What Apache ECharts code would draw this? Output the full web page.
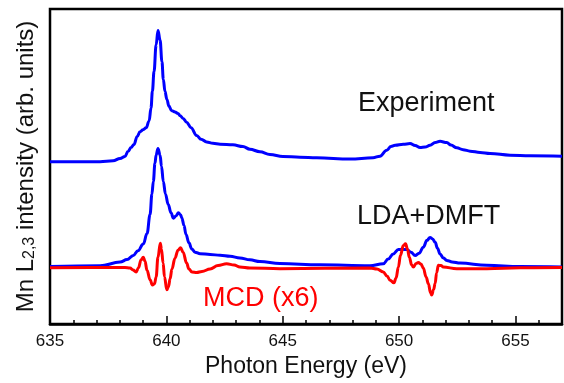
<!DOCTYPE html>
<html>
<head>
<meta charset="utf-8">
<script src="https://cdn.jsdelivr.net/npm/echarts@6/dist/echarts.min.js"></script>
<style>
  html, body { margin: 0; padding: 0; background: #fff; }
  #chart { width: 564px; height: 383px; }
</style>
</head>
<body>
<div id="chart"></div>
<script>
// photon energy (eV) and intensity (arb. units)
const expEnergy = [635.00, 637.15, 637.71, 638.01, 638.22, 638.35, 638.48, 638.61, 638.74, 638.87, 639.00, 639.13, 639.26, 639.34, 639.40, 639.47, 639.56, 639.64, 639.73, 639.81, 639.87, 639.94, 640.02, 640.11, 640.23, 640.37, 640.50, 640.59, 640.72, 640.87, 641.06, 641.30, 641.49, 641.73, 642.00, 642.31, 642.86, 643.29, 643.59, 644.02, 644.45, 645.01, 645.74, 646.46, 647.89, 648.88, 649.18, 649.47, 649.65, 649.83, 650.18, 650.47, 650.69, 650.90, 651.12, 651.33, 651.55, 651.76, 652.05, 652.23, 652.48, 652.75, 653.05, 653.48, 653.91, 654.77, 655.63, 657.00]
const expIntensity = [1.642, 1.644, 1.652, 1.677, 1.697, 1.747, 1.787, 1.817, 1.897, 1.947, 1.967, 1.987, 2.057, 2.187, 2.357, 2.557, 2.827, 2.972, 2.877, 2.657, 2.477, 2.357, 2.277, 2.207, 2.160, 2.147, 2.132, 2.110, 2.082, 2.044, 1.987, 1.910, 1.872, 1.844, 1.830, 1.821, 1.814, 1.797, 1.770, 1.744, 1.717, 1.697, 1.689, 1.684, 1.670, 1.684, 1.700, 1.760, 1.797, 1.810, 1.820, 1.827, 1.807, 1.787, 1.792, 1.810, 1.837, 1.850, 1.837, 1.812, 1.784, 1.765, 1.750, 1.737, 1.727, 1.710, 1.704, 1.700]

const ldaEnergy = [635.00, 637.15, 638.01, 638.31, 638.58, 638.78, 639.01, 639.17, 639.30, 639.38, 639.44, 639.51, 639.56, 639.64, 639.73, 639.79, 639.87, 639.96, 640.08, 640.20, 640.30, 640.41, 640.52, 640.61, 640.66, 640.76, 640.84, 640.97, 641.09, 641.23, 641.45, 641.88, 642.31, 642.74, 643.16, 643.59, 644.02, 644.88, 646.60, 648.75, 649.32, 649.53, 649.75, 649.97, 650.13, 650.33, 650.51, 650.69, 650.86, 651.04, 651.20, 651.33, 651.44, 651.55, 651.65, 651.76, 651.89, 652.05, 652.28, 652.62, 653.77, 655.20, 657.00]
const ldaIntensity = [0.582, 0.589, 0.627, 0.652, 0.694, 0.742, 0.810, 0.917, 1.110, 1.317, 1.444, 1.627, 1.710, 1.777, 1.710, 1.597, 1.444, 1.317, 1.210, 1.127, 1.072, 1.094, 1.127, 1.107, 1.077, 0.997, 0.910, 0.822, 0.760, 0.727, 0.712, 0.704, 0.696, 0.686, 0.669, 0.650, 0.632, 0.612, 0.600, 0.590, 0.610, 0.657, 0.710, 0.754, 0.757, 0.754, 0.727, 0.694, 0.717, 0.777, 0.847, 0.877, 0.862, 0.827, 0.767, 0.710, 0.672, 0.644, 0.629, 0.617, 0.594, 0.582, 0.577]

const mcdEnergy = [635.00, 637.58, 638.22, 638.44, 638.57, 638.70, 638.80, 638.91, 639.01, 639.08, 639.17, 639.30, 639.40, 639.49, 639.56, 639.64, 639.74, 639.79, 639.86, 639.92, 640.02, 640.09, 640.16, 640.24, 640.37, 640.50, 640.61, 640.72, 640.87, 640.97, 641.10, 641.30, 641.53, 641.88, 642.22, 642.59, 642.91, 643.16, 643.59, 644.88, 648.75, 649.05, 649.32, 649.48, 649.61, 649.78, 649.87, 649.97, 650.06, 650.18, 650.28, 650.36, 650.44, 650.54, 650.61, 650.73, 650.83, 650.94, 651.04, 651.16, 651.26, 651.35, 651.40, 651.48, 651.55, 651.61, 651.69, 651.80, 651.90, 652.48, 653.77, 655.20, 657.00]
const mcdIntensity = [0.570, 0.572, 0.572, 0.567, 0.547, 0.527, 0.567, 0.647, 0.677, 0.637, 0.544, 0.447, 0.394, 0.407, 0.477, 0.677, 0.817, 0.757, 0.617, 0.477, 0.347, 0.377, 0.457, 0.557, 0.667, 0.747, 0.772, 0.727, 0.617, 0.557, 0.527, 0.522, 0.532, 0.557, 0.592, 0.610, 0.597, 0.577, 0.567, 0.560, 0.567, 0.557, 0.527, 0.487, 0.444, 0.417, 0.467, 0.577, 0.697, 0.794, 0.812, 0.757, 0.677, 0.597, 0.577, 0.612, 0.622, 0.607, 0.567, 0.477, 0.407, 0.317, 0.294, 0.347, 0.410, 0.517, 0.594, 0.592, 0.577, 0.560, 0.560, 0.570, 0.572]

const xTicks = [635, 640, 645, 650, 655]

const font = 'Liberation Sans, Arial, sans-serif'

function pairs(xs, ys) {
  return xs.map((x, i) => [x, ys[i]])
}

function lineSeries(name, xs, ys, color) {
  return {
    name,
    type: 'line',
    data: pairs(xs, ys),
    showSymbol: false,
    smooth: 0.4,
    smoothMonotone: 'x',
    lineStyle: { color, width: 3 },
    silent: true,
  }
}

const chart = echarts.init(document.getElementById('chart'), null, { renderer: 'canvas' })

chart.setOption({
  animation: false,
  backgroundColor: '#fff',
  grid: {
    left: 50, right: 2, top: 9, bottom: 55,
    show: true, borderColor: '#000', borderWidth: 2.5,
  },
  xAxis: {
    type: 'value',
    min: xTicks[0],
    max: 657,
    interval: 5,
    name: 'Photon Energy (eV)',
    nameLocation: 'middle',
    nameGap: 31,
    nameTextStyle: { color: '#111', fontSize: 23, fontFamily: font },
    axisLine: { lineStyle: { color: '#000', width: 2.5 } },
    axisTick: { inside: true, length: 8, lineStyle: { color: '#000', width: 1.5 } },
    minorTick: { show: true, splitNumber: 5, length: 4, lineStyle: { color: '#000', width: 1.5 } },
    axisLabel: {
      color: '#111', fontSize: 17, fontFamily: font, margin: 9,
      customValues: xTicks,
    },
    splitLine: { show: false },
  },
  yAxis: {
    type: 'value',
    min: 0,
    max: 3.19,
    name: '{a|Mn L}{s|2,3}{a| intensity (arb. units)}',
    nameLocation: 'middle',
    nameRotate: 90,
    nameGap: 12,
    nameTextStyle: {
      color: '#111', fontFamily: font,
      rich: {
        a: { fontSize: 24, lineHeight: 24, verticalAlign: 'top', fontFamily: font, color: '#111' },
        s: { fontSize: 16, lineHeight: 16, verticalAlign: 'bottom', padding: [12, 0, 0, 0], fontFamily: font, color: '#111' },
      },
    },
    axisLine: { show: false },
    axisTick: { show: false },
    axisLabel: { show: false },
    splitLine: { show: false },
  },
  graphic: [
    { type: 'text', left: 358, top: 90, style: { text: 'Experiment', fill: '#111', fontSize: 27, fontFamily: font } },
    { type: 'text', left: 357, top: 203, style: { text: 'LDA+DMFT', fill: '#111', fontSize: 27, fontFamily: font } },
    { type: 'text', left: 203, top: 285, style: { text: 'MCD (x6)', fill: '#ff0000', fontSize: 27, fontFamily: font } },
  ],
  series: [
    lineSeries('Experiment', expEnergy, expIntensity, '#0000ff'),
    lineSeries('LDA+DMFT', ldaEnergy, ldaIntensity, '#0000ff'),
    lineSeries('MCD (x6)', mcdEnergy, mcdIntensity, '#ff0000'),
  ],
})
</script>
</body>
</html>
